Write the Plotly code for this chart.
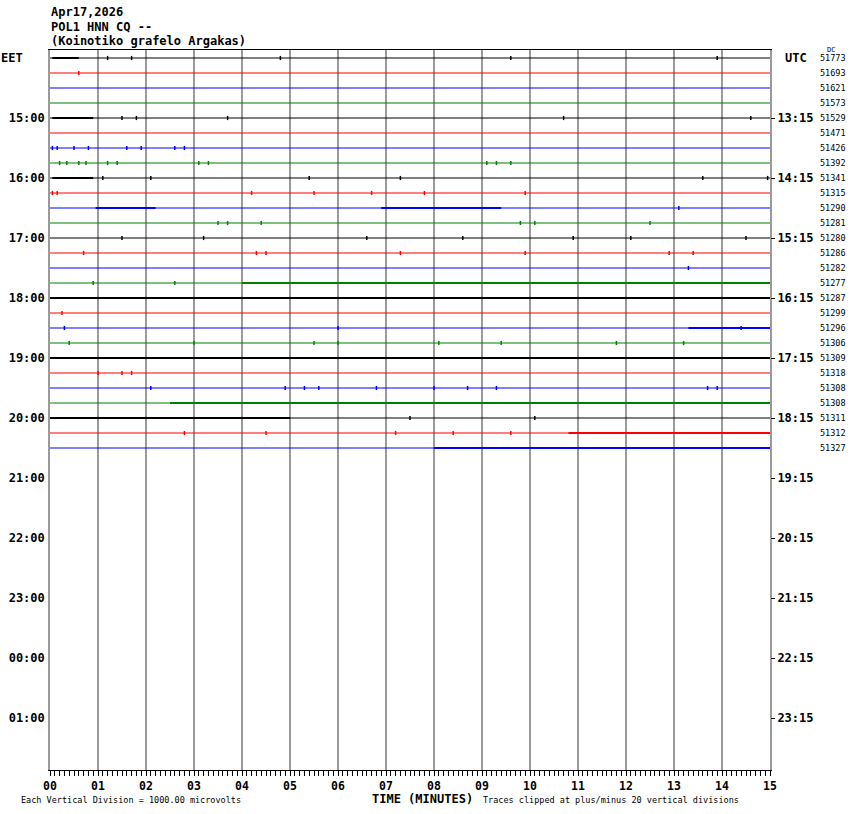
import plotly.graph_objects as go

# ---------------- data ----------------
header_lines = ["Apr17,2026", "POL1 HNN CQ --", "(Koinotiko grafelo Argakas)"]
eet_labels = ["15:00", "16:00", "17:00", "18:00", "19:00", "20:00",
              "21:00", "22:00", "23:00", "00:00", "01:00"]
utc_labels = ["13:15", "14:15", "15:15", "16:15", "17:15", "18:15",
              "19:15", "20:15", "21:15", "22:15", "23:15"]
label_rows = [4, 8, 12, 16, 20, 24, 28, 32, 36, 40, 44]
minute_values = list(range(16))
minute_labels = ["%02d" % m for m in minute_values]
dc_values = [51773, 51693, 51621, 51573, 51529, 51471, 51426, 51392, 51341,
             51315, 51290, 51281, 51280, 51286, 51282, 51277, 51287, 51299,
             51296, 51306, 51309, 51318, 51308, 51308, 51311, 51312, 51327]
trace_colors = ["#000000", "#ff0000", "#0000ff", "#008000"]

# noisy stretches (start minute, end minute) per trace row
busy_segments = {
    0: [(0.05, 0.6)], 4: [(0.05, 0.9)], 8: [(0.05, 0.9)],
    10: [(0.95, 2.2), (6.9, 9.4)], 15: [(4.0, 15.0)], 16: [(0.0, 15.0)],
    18: [(13.3, 15.0)], 20: [(0.0, 15.0)], 23: [(2.5, 15.0)],
    24: [(0.0, 5.0)], 25: [(10.8, 15.0)], 26: [(8.0, 15.0)],
}
# isolated spikes (minute) per trace row
spike_minutes = {
    0: [1.2, 1.7, 4.8, 9.6, 13.9],
    1: [0.6],
    4: [1.5, 1.8, 3.7, 10.7, 14.6],
    6: [0.05, 0.15, 0.5, 0.8, 1.6, 1.9, 2.6, 2.8],
    7: [0.2, 0.35, 0.6, 0.75, 1.2, 1.4, 3.1, 3.3, 9.1, 9.3, 9.6],
    8: [1.1, 2.1, 5.4, 7.3, 13.6, 14.95],
    9: [0.05, 0.15, 4.2, 5.5, 6.7, 7.8, 9.9],
    10: [13.1],
    11: [3.5, 3.7, 4.4, 9.8, 10.1, 12.5],
    12: [1.5, 3.2, 6.6, 8.6, 10.9, 12.1, 14.5],
    13: [0.7, 4.3, 4.5, 7.3, 9.9, 12.9, 13.4],
    14: [13.3],
    15: [0.9, 2.6],
    17: [0.25],
    18: [0.3, 6.0, 14.4],
    19: [0.4, 3.0, 5.5, 6.0, 8.1, 9.4, 11.8, 13.2],
    21: [1.0, 1.5, 1.7],
    22: [2.1, 4.9, 5.3, 5.6, 6.8, 8.0, 8.7, 9.3, 13.7, 13.9],
    24: [7.5, 10.1],
    25: [2.8, 4.5, 7.2, 8.4, 9.6],
}

# ---------------- figure ----------------
W, H = 850, 814
L, R, T, B = 50, 80, 50, 44
MONO = "DejaVu Sans Mono"


def px_x(px):
    return (px - L) / (W - L - R)


def px_y(py):
    return (H - B - py) / (H - T - B)


fig = go.Figure()
n_rows = len(dc_values)
for i in range(n_rows):
    col = trace_colors[i % 4]
    fig.add_trace(go.Scatter(x=[minute_values[0], minute_values[-1]], y=[i, i],
                             mode="lines", line=dict(color=col, width=1.2),
                             hoverinfo="skip", showlegend=False))
    for a, b in busy_segments.get(i, []):
        fig.add_trace(go.Scatter(x=[a, b], y=[i, i], mode="lines",
                                 line=dict(color=col, width=2),
                                 hoverinfo="skip", showlegend=False))
    sp = spike_minutes.get(i, [])
    if sp:
        fig.add_trace(go.Scatter(x=sp, y=[i] * len(sp), mode="markers",
                                 marker=dict(symbol="line-ns", size=3,
                                             line=dict(color=col, width=1.5)),
                                 hoverinfo="skip", showlegend=False))

# dummy trace to activate right axis
fig.add_trace(go.Scatter(x=[0], y=[0], yaxis="y2", mode="markers",
                         marker=dict(opacity=0), hoverinfo="skip", showlegend=False))

yrange = [(H - B - 58) / 15.0, (T - 58) / 15.0]

annotations = []
for k, txt in enumerate(header_lines):
    annotations.append(dict(text=txt, xref="paper", yref="paper", x=px_x(49), y=px_y(12 + 14.5 * k),
                            xanchor="left", yanchor="middle", showarrow=False,
                            font=dict(family=MONO, size=12, color="black", weight="bold")))
annotations.append(dict(text="EET", xref="paper", yref="y", x=px_x(-1), y=0,
                        xanchor="left", yanchor="middle", showarrow=False,
                        font=dict(family=MONO, size=12, color="black", weight="bold")))
annotations.append(dict(text="UTC", xref="paper", yref="y", x=px_x(783), y=0,
                        xanchor="left", yanchor="middle", showarrow=False,
                        font=dict(family=MONO, size=12, color="black", weight="bold")))
annotations.append(dict(text="DC", xref="paper", yref="paper", x=px_x(825), y=px_y(50),
                        xanchor="left", yanchor="middle", showarrow=False,
                        font=dict(family=MONO, size=7, color="black")))
for i, v in enumerate(dc_values):
    annotations.append(dict(text=str(v), xref="paper", yref="y", x=px_x(818), y=i,
                            xanchor="left", yanchor="middle", showarrow=False,
                            font=dict(family=MONO, size=8.5, color="black")))
annotations.append(dict(text="Each Vertical Division = 1000.00 microvolts", xref="paper", yref="paper",
                        x=px_x(19), y=px_y(800), xanchor="left", yanchor="middle", showarrow=False,
                        font=dict(family=MONO, size=8.5, color="black")))
annotations.append(dict(text="TIME (MINUTES)", xref="paper", yref="paper",
                        x=px_x(422), y=px_y(799), xanchor="center", yanchor="middle", showarrow=False,
                        font=dict(family=MONO, size=12, color="black", weight="bold")))
annotations.append(dict(text="Traces clipped at plus/minus 20 vertical divisions", xref="paper", yref="paper",
                        x=px_x(481), y=px_y(800), xanchor="left", yanchor="middle", showarrow=False,
                        font=dict(family=MONO, size=8.5, color="black")))

fig.update_layout(
    width=W, height=H, margin=dict(l=L, r=R, t=T, b=B, pad=0, autoexpand=False),
    paper_bgcolor="white", plot_bgcolor="white",
    xaxis=dict(range=[minute_values[0], minute_values[-1]], tickvals=minute_values, ticktext=minute_labels,
               showgrid=True, gridcolor="#9a9a9a", gridwidth=1.6, zeroline=False, automargin=False,
               showline=True, linecolor="black", linewidth=1, mirror=True,
               ticks="outside", ticklen=5, tickcolor="black", tickwidth=1,
               minor=dict(dtick=0.1, tick0=0, ticks="outside", ticklen=5, tickcolor="black", showgrid=False),
               tickfont=dict(family=MONO, size=11.5, color="black", weight="bold"), fixedrange=True),
    yaxis=dict(range=yrange, autorange=False, tickvals=label_rows, ticktext=eet_labels, automargin=False,
               showgrid=False, zeroline=False, showline=True, linecolor="#9a9a9a", linewidth=1.6,
               mirror=True, ticks="", ticklabelstandoff=1,
               tickfont=dict(family=MONO, size=12, color="black", weight="bold")),
    yaxis2=dict(range=yrange, autorange=False, overlaying="y", side="right", tickvals=label_rows,
                ticktext=utc_labels, showgrid=False, zeroline=False, showline=False, automargin=False,
                ticks="outside", ticklen=4, tickcolor="black",
                tickfont=dict(family=MONO, size=12, color="black", weight="bold")),
    annotations=annotations,
)

fig.write_html("out.html", config={"displayModeBar": False},
               post_script="document.body.style.margin='0px';document.body.style.padding='0px';")
